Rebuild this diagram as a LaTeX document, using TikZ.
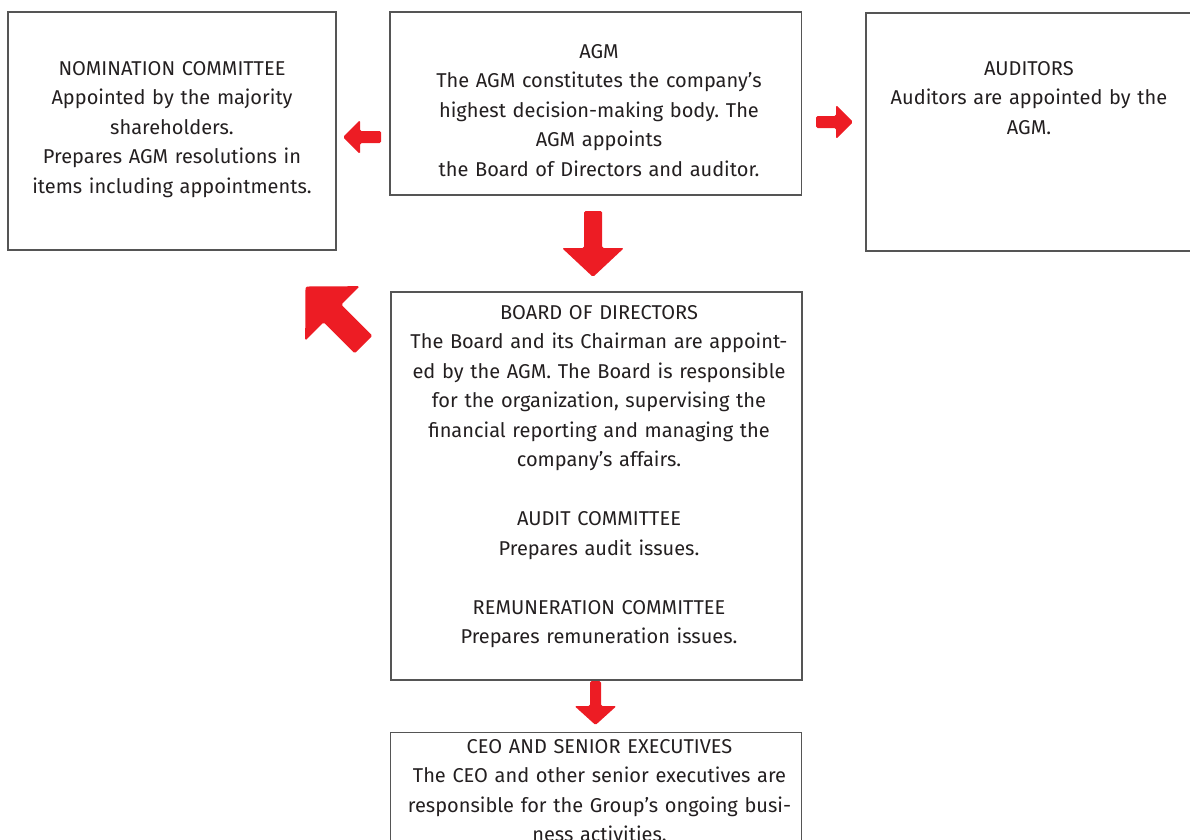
\documentclass[tikz,border=0pt]{standalone}
\usepackage{fontspec}
\setmainfont{Fira Sans}
\frenchspacing
\definecolor{arrowred}{HTML}{ED1C24}
\definecolor{boxline}{HTML}{555555}
\definecolor{txtcol}{HTML}{231F20}
\newcommand{\blkarrow}[7]{%
  \begin{scope}[shift={(#1,#2)}, rotate=#3]
    \fill[arrowred, rounded corners=1.5pt]
      (0,{-#5/2}) -- (#4,{-#5/2}) -- (#4,{-#7/2}) -- ({#4+#6},0)
      -- (#4,{#7/2}) -- (#4,{#5/2}) -- (0,{#5/2}) -- cycle;
  \end{scope}}
\begin{document}
\begin{tikzpicture}[x=1pt,y=-1pt,
  box/.style={draw=boxline, line width=1.2pt, fill=none, inner sep=0pt, outer sep=0pt},
  txt/.style={text=txtcol, inner sep=0pt, anchor=base, text width=420pt, align=center,
              font=\fontsize{20}{29.5}\selectfont}]
\useasboundingbox (0,0) rectangle (1190,839);
% boxes
\node[box, minimum width=328pt, minimum height=238pt] (nom) at (172,131) {};
\node[box, minimum width=411.5pt, minimum height=183pt] (agm) at (595.75,103.5) {};
\node[box, minimum width=330pt, minimum height=238pt] (aud) at (1031,132) {};
\node[box, minimum width=411pt, minimum height=388pt] (board) at (596.5,486) {};
\node[box, minimum width=411pt, minimum height=140pt] (ceo) at (596,802.5) {};
% texts
\node[txt] (nomtxt) at (172,75) {NOMINATION COMMITTEE\\Appointed by the majority\\shareholders.\\Prepares AGM resolutions in\\items including appointments.};
\node[txt] (agmtxt) at (599,58) {AGM\\The AGM constitutes the company’s\\highest decision-making body. The\\AGM appoints\\the Board of Directors and auditor.};
\node[txt] (audtxt) at (1029,75) {AUDITORS\\Auditors are appointed by the\\AGM.};
\node[txt] (boardtxt) at (599,319) {BOARD OF DIRECTORS\\The Board and its Chairman are appoint-\\ed by the AGM. The Board is responsible\\for the organization, supervising the\\financial reporting and managing the\\company’s affairs.\\[29.5pt]AUDIT COMMITTEE\\Prepares audit issues.\\[29.5pt]REMUNERATION COMMITTEE\\Prepares remuneration issues.};
\node[txt] (ceotxt) at (599.5,753) {CEO AND SENIOR EXECUTIVES\\The CEO and other senior executives are\\responsible for the Group’s ongoing busi-\\ness activities.};
% block arrows
\blkarrow{381}{137}{180}{21}{12}{17}{34}
\blkarrow{816}{122}{0}{20}{12}{17}{34}
\blkarrow{593}{211}{-90}{37}{18}{29}{62}
\blkarrow{595.5}{681}{-90}{25}{11}{19}{42}
\blkarrow{363.5}{344.5}{135}{44}{25}{38}{77}
\end{tikzpicture}
\end{document}
